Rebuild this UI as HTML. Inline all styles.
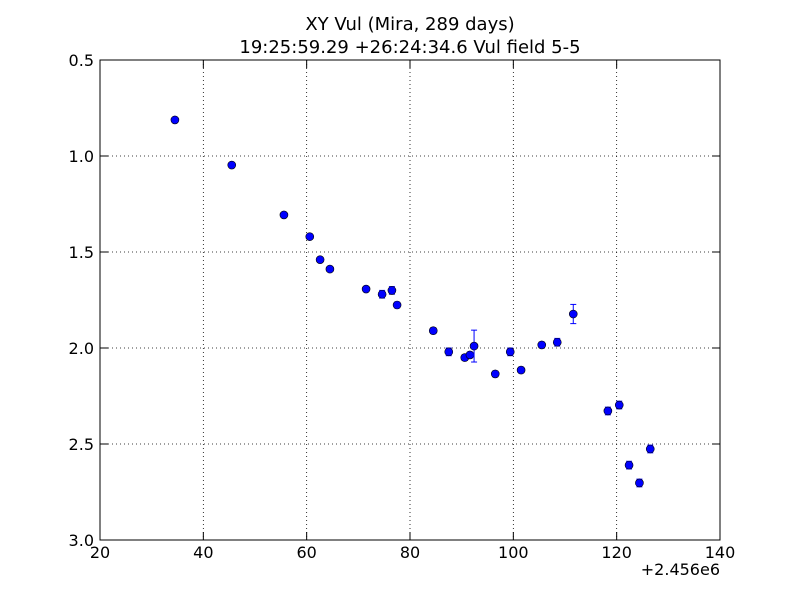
<!DOCTYPE html>
<html><head><meta charset="utf-8"><style>
body{margin:0;background:#fff;}
svg text{font-family:"DejaVu Sans","Liberation Sans",sans-serif;}
</style></head><body>
<svg id="chart" width="800" height="600" viewBox="0 0 800 600">
<rect width="800" height="600" fill="#fff"/>
<text x="410" y="30" text-anchor="middle" font-size="18">XY Vul (Mira, 289 days)</text>
<text x="410" y="53" text-anchor="middle" font-size="18">19:25:59.29 +26:24:34.6 Vul field 5-5</text>
<g id="grid"></g><g id="ticks"></g><g id="marks"></g>
<rect x="100" y="60" width="620" height="480" fill="none" stroke="#000" stroke-width="1"/>
<text x="720" y="575" text-anchor="end" font-size="16">+2.456e6</text>
</svg>
<script>
const xs=[34.5,45.5,55.6,60.6,62.6,64.5,71.5,74.6,76.5,77.5,84.5,87.5,90.6,91.6,92.4,96.5,99.4,101.5,105.5,108.5,111.6,118.3,120.5,122.4,124.4,126.5];
const mags=[0.812,1.047,1.307,1.42,1.54,1.589,1.693,1.72,1.70,1.776,1.91,2.02,2.05,2.036,1.99,2.135,2.02,2.115,1.984,1.97,1.823,2.328,2.297,2.61,2.703,2.526];
const errs=[0.01,0.01,0.01,0.01,0.01,0.01,0.01,0.02,0.02,0.015,0.015,0.02,0.015,0.015,0.083,0.015,0.02,0.015,0.015,0.02,0.05,0.02,0.02,0.02,0.02,0.02];
const xTicks=[20,40,60,80,100,120,140];
const yTicks=[0.5,1.0,1.5,2.0,2.5,3.0];
const X=v=>100+(v-20)/120*620, Y=v=>60+(v-0.5)/2.5*480;
const NS="http://www.w3.org/2000/svg";
function mk(t,a,p){const e=document.createElementNS(NS,t);for(const k in a)e.setAttribute(k,a[k]);p.appendChild(e);return e;}
const g=document.getElementById('grid'),tk=document.getElementById('ticks'),m=document.getElementById('marks');
xTicks.forEach(v=>{const x=X(v);
 const l=mk('line',{x1:x,x2:x,y1:60,y2:540,stroke:'#000','stroke-dasharray':'1,3','stroke-width':0.8},g);
 
 
 mk('line',{x1:x,x2:x,y1:540,y2:532,stroke:'#000'},tk);mk('line',{x1:x,x2:x,y1:60,y2:68,stroke:'#000'},tk);
 const t=mk('text',{x:x,y:558,'text-anchor':'middle','font-size':16},tk);t.textContent=v;
 
 });
yTicks.forEach(v=>{const y=Y(v);
 const l=mk('line',{x1:100,x2:720,y1:y,y2:y,stroke:'#000','stroke-dasharray':'1,3','stroke-width':0.8},g);
 
 
 mk('line',{x1:100,x2:108,y1:y,y2:y,stroke:'#000'},tk);mk('line',{x1:712,x2:720,y1:y,y2:y,stroke:'#000'},tk);
 const t=mk('text',{x:94,y:y+6,'text-anchor':'end','font-size':16},tk);t.textContent=v.toFixed(1);
 
 });
xs.forEach((v,i)=>{const x=X(v),y=Y(mags[i]),y1=Y(mags[i]-errs[i]),y2=Y(mags[i]+errs[i]);
 const eb=mk('g',{stroke:'#0000ff','stroke-width':1},m);
 
 
 mk('line',{x1:x,x2:x,y1:y1,y2:y2},eb);mk('line',{x1:x-3,x2:x+3,y1:y1,y2:y1},eb);mk('line',{x1:x-3,x2:x+3,y1:y2,y2:y2},eb);
 const c=mk('circle',{cx:x,cy:y,r:4,fill:'#0000ff',stroke:'#000','stroke-width':0.6},m);
 
 });
</script>
</body></html>
